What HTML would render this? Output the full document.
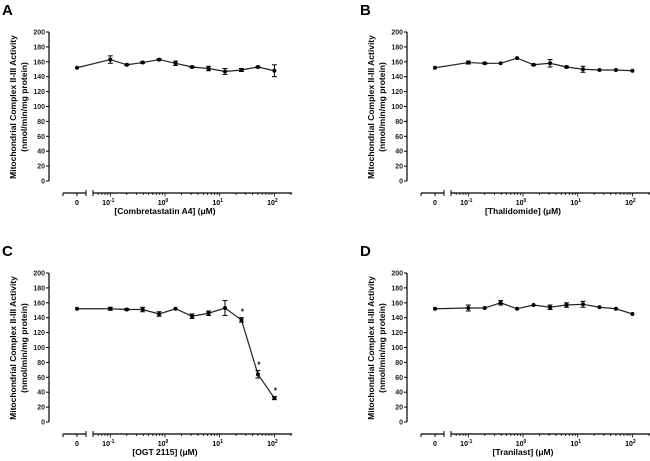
<!DOCTYPE html>
<html><head><meta charset="utf-8"><style>
body{margin:0;background:#fff;}
svg{display:block;font-family:"Liberation Sans",sans-serif;}
</style></head><body>
<svg id="fig" width="650" height="461" viewBox="0 0 650 461"></svg>
<script>
const concs=[0.1,0.2,0.39,0.78,1.56,3.125,6.25,12.5,25,50,100];
const yTicks=[0,20,40,60,80,100,120,140,160,180,200];
const xMajor=[-1,0,1,2];
const valsA=[152,163,156,159,163,158,153,151,147,149,153,148];
const errA=[0,5,1,1,1,3,1,3,4,2,1,8];
const valsB=[152,159,158,158,165,156,158,153,150,149,149,148];
const errB=[0,2,1,0,0,1,5,1,4,0,0,0];
const valsC=[152,152,151,151,145,152,142,146,153,137,64,32];
const errC=[0,2,1,3,3,0,3,3,10,3,5,2];
const starsC=[false,false,false,false,false,false,false,false,false,true,true,true];
const valsD=[152,153,153,160,152,157,154,157,158,154,152,145];
const errD=[0,4,0,3,0,0,3,3,4,0,0,0];
const labels=["[Combretastatin A4] (\u03bcM)","[Thalidomide] (\u03bcM)","[OGT 2115] (\u03bcM)","[Tranilast] (\u03bcM)"];
const NS="http://www.w3.org/2000/svg";
const svg=document.getElementById('fig');
function mk(tag,attrs,parent){const e=document.createElementNS(NS,tag);for(const k in attrs)e.setAttribute(k,attrs[k]);(parent||svg).appendChild(e);return e;}
function panel(ox,oy,letter,vals,errs,stars,xlabel,name){
  const g=mk('g',{});
  
  
  const yS=v=>oy+181-v*0.745;
  const xS=c=>ox+165+Math.log10(c)*54.7;
  const x0=ox+77;
  let t=mk('text',{x:ox+2,y:oy+15,'font-size':15,'font-weight':'bold'},g);t.textContent=letter;
  
  let ya=mk('line',{x1:ox+49,y1:yS(200),x2:ox+49,y2:yS(0),stroke:'#000','stroke-width':1.2},g);
  
  yTicks.forEach(v=>{
    mk('line',{x1:ox+46,y1:yS(v),x2:ox+49,y2:yS(v),stroke:'#000','stroke-width':1},g);
    let l=mk('text',{x:ox+45,y:yS(v)+2.5,'font-size':7,'font-weight':'bold','text-anchor':'end',fill:'#222'},g);
    l.textContent=v;
    
  });
  let yt=mk('text',{transform:`translate(${ox+16},${oy+107}) rotate(-90)`,'font-size':8.5,'font-weight':'bold','text-anchor':'middle'},g);
  
  let s1=mk('tspan',{x:0,y:0},yt);s1.textContent='Mitochondrial Complex II-III Activity';
  let s2=mk('tspan',{x:0,y:11},yt);s2.textContent='(nmol/min/mg protein)';
  const ay=oy+193;
  mk('line',{x1:ox+63,y1:ay,x2:ox+86,y2:ay,stroke:'#000','stroke-width':1.2},g);
  mk('line',{x1:ox+63,y1:ay,x2:ox+63,y2:ay+3,stroke:'#000'},g);
  mk('line',{x1:ox+86,y1:ay-3,x2:ox+86,y2:ay+3,stroke:'#000'},g);
  mk('line',{x1:x0,y1:ay,x2:x0,y2:ay+3,stroke:'#000'},g);
  let xa=mk('line',{x1:ox+93,y1:ay,x2:ox+292,y2:ay,stroke:'#000','stroke-width':1.2},g);
  
  mk('line',{x1:ox+93,y1:ay-3,x2:ox+93,y2:ay+3,stroke:'#000'},g);
  let z=mk('text',{x:x0,y:ay+12,'font-size':7,'font-weight':'bold','text-anchor':'middle'},g);z.textContent='0';
  
  for(let d=-2;d<=2;d++){for(let m=1;m<=9;m++){const x=xS(m*Math.pow(10,d));if(x<ox+94||x>ox+292)continue;
    mk('line',{x1:x,y1:ay,x2:x,y2:ay+(m===1?3.5:2),stroke:'#000','stroke-width':0.8},g);}}
  xMajor.forEach(p=>{
    let l=mk('text',{x:xS(Math.pow(10,p))-2,y:ay+12,'font-size':7,'font-weight':'bold','text-anchor':'middle'},g);
    
    l.textContent='10';let sp=mk('tspan',{dy:-3,'font-size':5},l);sp.textContent=String(p);
  });
  let xt=mk('text',{x:ox+165,y:oy+214,'font-size':8.5,'font-weight':'bold','text-anchor':'middle'},g);
  xt.textContent=xlabel;
  const pts=vals.map((v,i)=>[i===0?x0:xS(concs[i-1]),yS(v)]);
  let pl=mk('polyline',{points:pts.map(p=>p.join(',')).join(' '),fill:'none',stroke:'#222','stroke-width':1.2},g);
  
  pts.forEach((p,i)=>{
    if(errs[i]>0){const y1=yS(vals[i]+errs[i]),y2=yS(vals[i]-errs[i]);
      mk('line',{x1:p[0],y1:y1,x2:p[0],y2:y2,stroke:'#000','stroke-width':1},g);
      mk('line',{x1:p[0]-2.5,y1:y1,x2:p[0]+2.5,y2:y1,stroke:'#000','stroke-width':1},g);
      mk('line',{x1:p[0]-2.5,y1:y2,x2:p[0]+2.5,y2:y2,stroke:'#000','stroke-width':1},g);}
    let c=mk('circle',{cx:p[0],cy:p[1],r:2,fill:'#000'},g);
    
    if(stars&&stars[i]){let s=mk('text',{x:p[0]+1,y:yS(vals[i]+errs[i])-3,'font-size':8,'font-weight':'bold','text-anchor':'middle'},g);
      s.textContent='*';}
  });
}
panel(0,0,'A',valsA,errA,null,labels[0],'a');
panel(358,0,'B',valsB,errB,null,labels[1],'b');
panel(0,241,'C',valsC,errC,starsC,labels[2],'c');
panel(358,241,'D',valsD,errD,null,labels[3],'d');
</script>
</body></html>
